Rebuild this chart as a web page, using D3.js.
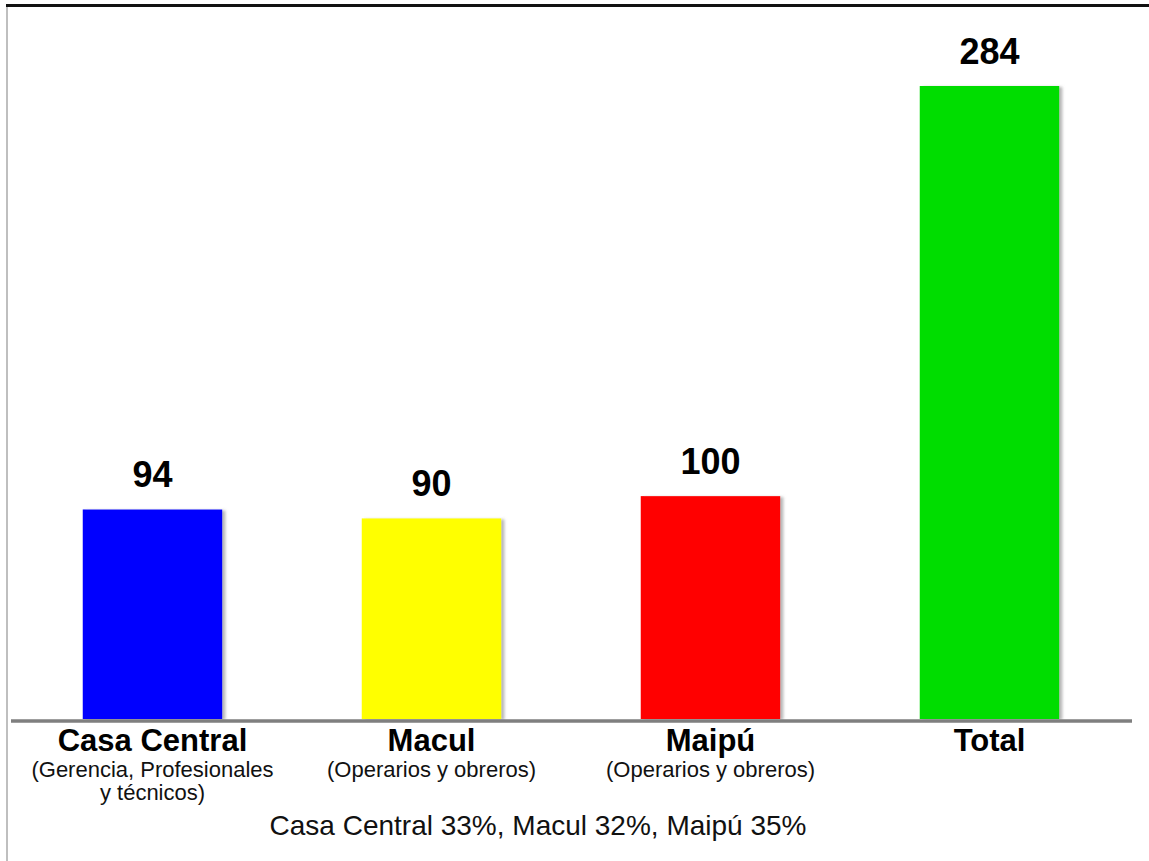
<!DOCTYPE html>
<html>
<head>
<meta charset="utf-8">
<script src="https://cdn.jsdelivr.net/npm/d3@7"></script>
<style>
  html, body { margin: 0; padding: 0; background: #fff; }
  svg { display: block; font-family: "Liberation Sans", Arial, sans-serif; }
</style>
</head>
<body>
<svg id="chart" width="1149" height="861"></svg>
<script>
const categories = ["Casa Central", "Macul", "Maipú", "Total"];
const subtitles = [["(Gerencia, Profesionales", "y técnicos)"], ["(Operarios y obreros)"], ["(Operarios y obreros)"], []];
const values = [94, 90, 100, 284];
const colors = ["#0000ff", "#ffff00", "#ff0000", "#00dd00"];
const footnote = "Casa Central 33%, Macul 32%, Maipú 35%";

const svg = d3.select("#chart");
const W = 1149, H = 861;

const defs = svg.append("defs");
const f = defs.append("filter").attr("id", "shadow")
  .attr("x", "-10%").attr("y", "-10%").attr("width", "130%").attr("height", "130%");
f.append("feDropShadow").attr("dx", 3).attr("dy", 1).attr("stdDeviation", 1.8)
  .attr("flood-color", "#777").attr("flood-opacity", 0.55);

const x = d3.scaleBand().domain(categories).range([13, 1129]).paddingInner(0.5).paddingOuter(0.25);
const y = d3.scaleLinear().domain([0, 284]).range([719, 86]);

// frame lines
svg.append("line").attr("x1", 7).attr("x2", 7).attr("y1", 5).attr("y2", H)
  .attr("stroke", "#aaa").attr("stroke-width", 1.5);
svg.append("line").attr("x1", 6).attr("x2", W).attr("y1", 5.5).attr("y2", 5.5)
  .attr("stroke", "#111").attr("stroke-width", 3);

// bars
svg.append("g").selectAll("rect").data(values).join("rect")
  .attr("x", (d, i) => x(categories[i]))
  .attr("y", d => y(d))
  .attr("width", x.bandwidth())
  .attr("height", d => y(0) - y(d))
  .attr("fill", (d, i) => colors[i])
  .attr("filter", "url(#shadow)");

// baseline
svg.append("line").attr("x1", 11).attr("x2", 1132).attr("y1", 721).attr("y2", 721)
  .attr("stroke", "#7f7f7f").attr("stroke-width", 3.5);

// value labels
svg.append("g").selectAll("text").data(values).join("text")
  .attr("x", (d, i) => x(categories[i]) + x.bandwidth() / 2)
  .attr("y", d => y(d) - 22)
  .attr("text-anchor", "middle")
  .attr("font-size", 36).attr("font-weight", "bold").attr("fill", "#000")
  .text(d => d);

// category labels
const cg = svg.append("g").selectAll("g").data(categories).join("g")
  .attr("transform", d => `translate(${x(d) + x.bandwidth() / 2},0)`);
cg.append("text").attr("y", 751).attr("text-anchor", "middle")
  .attr("font-size", 31).attr("font-weight", "bold").attr("fill", "#000")
  .text(d => d);
cg.each(function(d, i) {
  d3.select(this).selectAll("text.sub").data(subtitles[i]).join("text")
    .attr("class", "sub")
    .attr("y", (s, j) => 777 + j * 23)
    .attr("text-anchor", "middle")
    .attr("font-size", 22).attr("fill", "#111")
    .text(s => s);
});

// footnote
svg.append("text").attr("x", 538).attr("y", 835).attr("text-anchor", "middle")
  .attr("font-size", 28).attr("fill", "#111").text(footnote);
</script>
</body>
</html>
